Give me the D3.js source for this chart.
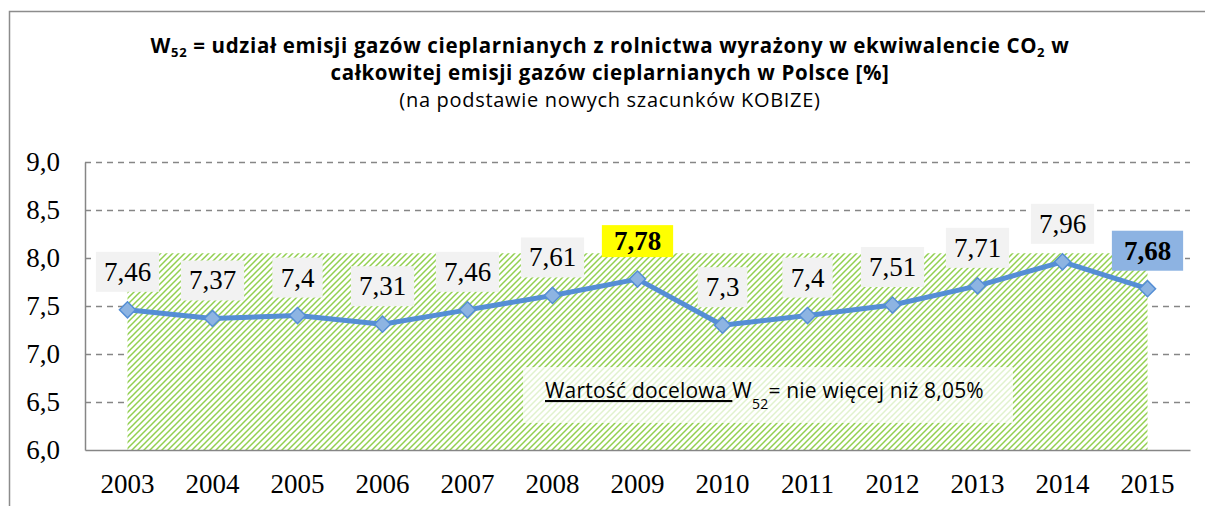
<!DOCTYPE html>
<html>
<head>
<meta charset="utf-8">
<script src="https://cdn.jsdelivr.net/npm/d3@7"></script>
<style>
  body { margin: 0; background: #fff; overflow: hidden; }
  svg { display: block; }
</style>
</head>
<body>
<svg id="chart" width="1205" height="506"></svg>
<script>
// dane
const years = [2003, 2004, 2005, 2006, 2007, 2008, 2009, 2010, 2011, 2012, 2013, 2014, 2015];
const values = [7.46, 7.37, 7.4, 7.31, 7.46, 7.61, 7.78, 7.3, 7.4, 7.51, 7.71, 7.96, 7.68];
const targetValue = 8.05;
const yTicks = [6.0, 6.5, 7.0, 7.5, 8.0, 8.5, 9.0];
const highlightYears = [2009, 2015];
const highlightFills = ['#ffff00', '#8db3e2'];

// konfiguracja
const config = {
    margin: { top: 162, right: 15, bottom: 56, left: 85 },
    width: 1205,
    height: 506,
    lineColor: '#558ed5',
    markerFill: '#8db4e2',
    gridColor: '#868686',
    hatchColor: '#92d050',
    titleFont: '"Open Sans", Lato, sans-serif',
    numFont: '"Liberation Serif", serif'
};

const svg = d3.select('#chart');
const plotRight = config.width - config.margin.right;
const plotBottom = config.height - config.margin.bottom;

// skale
const x = d3.scaleBand()
    .domain(years)
    .range([config.margin.left, plotRight]);
const cx = d => x(d) + x.bandwidth() / 2;

const y = d3.scaleLinear()
    .domain([6, 9])
    .range([plotBottom, config.margin.top]);

const fmt = v => String(v).replace('.', ',');
const fmt1 = v => d3.format('.1f')(v).replace('.', ',');

// ramka wykresu (tylko góra i lewa strona są widoczne)
svg.append('path')
    .attr('d', `M9.5,${config.height} V11.5 H${config.width}`)
    .attr('fill', 'none')
    .attr('stroke', '#8c8c8c')
    .attr('stroke-width', 1.5);

// tytuł - każda linia osobno
const titleLine = (yPos, size, weight, spacing) => svg.append('text')
    .attr('x', 610).attr('y', yPos)
    .attr('text-anchor', 'middle')
    .attr('font-family', config.titleFont)
    .attr('font-size', size)
    .attr('font-weight', weight)
    .attr('letter-spacing', spacing)
    .attr('fill', '#000');

const line1 = titleLine(53, 20.5, 'bold', 0.65);
line1.append('tspan').text('W');
line1.append('tspan').attr('font-size', 13).attr('dy', 4).text('52');
line1.append('tspan').attr('dy', -4).text(' = udział emisji gazów cieplarnianych z rolnictwa wyrażony w ekwiwalencie CO');
line1.append('tspan').attr('font-size', 13).attr('dy', 4).text('2');
line1.append('tspan').attr('dy', -4).text(' w');

titleLine(80, 20.5, 'bold', 0.6)
    .text('całkowitej emisji gazów cieplarnianych w Polsce [%]');

titleLine(107, 20, 'normal', 0.7)
    .text('(na podstawie nowych szacunków KOBIZE)');

// wzór kreskowania
const defs = svg.append('defs');
const pattern = defs.append('pattern')
    .attr('id', 'hatch')
    .attr('patternUnits', 'userSpaceOnUse')
    .attr('width', 6).attr('height', 6);
pattern.append('rect').attr('width', 6).attr('height', 6).attr('fill', '#fff');
pattern.append('path')
    .attr('d', 'M-1,1 l2,-2 M0,6 l6,-6 M5,7 l2,-2')
    .attr('stroke', config.hatchColor)
    .attr('stroke-width', 1.5);

// linie siatki
svg.append('g')
    .selectAll('line')
    .data(yTicks.filter(t => t > 6))
    .join('line')
    .attr('x1', config.margin.left)
    .attr('x2', plotRight)
    .attr('y1', d => Math.round(y(d)) + 0.5)
    .attr('y2', d => Math.round(y(d)) + 0.5)
    .attr('stroke', config.gridColor)
    .attr('stroke-width', 1.3)
    .attr('stroke-dasharray', '6,5');

// obszar wartości docelowej
const area = d3.area()
    .x(d => cx(d))
    .y0(y(6))
    .y1(y(targetValue));
svg.append('path')
    .datum(years)
    .attr('d', area)
    .attr('fill', 'url(#hatch)');

// opis wartości docelowej
svg.append('rect')
    .attr('x', 523).attr('y', 367)
    .attr('width', 490).attr('height', 56)
    .attr('fill', '#fff')
    .attr('fill-opacity', 0.72);

const note = svg.append('text')
    .attr('x', 545).attr('y', 398)
    .attr('font-family', config.titleFont)
    .attr('font-size', 21)
    .attr('letter-spacing', 0.2)
    .attr('fill', '#000');
note.append('tspan').attr('text-decoration', 'underline').text('Wartość docelowa ');
note.append('tspan').text('W');
note.append('tspan').attr('font-size', 14).attr('dy', 11).text('52');
note.append('tspan').attr('dy', -11).text('= nie więcej niż 8,05%');

// osie
const yAxis = svg.append('g')
    .attr('transform', `translate(${config.margin.left},0)`)
    .call(d3.axisLeft(y).tickValues(yTicks).tickFormat(fmt1).tickSize(0).tickPadding(25));
const xAxis = svg.append('g')
    .attr('transform', `translate(0,${plotBottom})`)
    .call(d3.axisBottom(x).tickSize(0).tickPadding(24));

[yAxis, xAxis].forEach(g => {
    g.select('.domain').attr('stroke', config.gridColor).attr('stroke-width', 1.5);
    g.selectAll('text')
        .attr('font-family', config.numFont)
        .attr('font-size', 27)
        .attr('fill', '#000');
});

// linia danych
const data = years.map((yr, i) => ({ year: yr, value: values[i] }));
const line = d3.line()
    .x(d => cx(d.year))
    .y(d => y(d.value));
svg.append('path')
    .datum(data)
    .attr('d', line)
    .attr('fill', 'none')
    .attr('stroke', config.lineColor)
    .attr('stroke-width', 5)
    .attr('stroke-linejoin', 'round');

// znaczniki
svg.append('g')
    .selectAll('path')
    .data(data)
    .join('path')
    .attr('d', d3.symbol(d3.symbolSquare, 130))
    .attr('transform', d => `translate(${cx(d.year)},${y(d.value)}) rotate(45)`)
    .attr('fill', config.markerFill)
    .attr('stroke', config.lineColor)
    .attr('stroke-width', 1.5);

// etykiety danych
const labels = svg.append('g')
    .selectAll('g')
    .data(data)
    .join('g')
    .attr('transform', d => `translate(${cx(d.year)},${y(d.value) - 38})`);

labels.each(function(d) {
    const g = d3.select(this);
    const hi = highlightYears.indexOf(d.year);
    const txt = g.append('text')
        .attr('text-anchor', 'middle')
        .attr('dy', '0.33em')
        .attr('font-family', config.numFont)
        .attr('font-size', 27)
        .attr('font-weight', hi >= 0 ? 'bold' : 'normal')
        .attr('fill', '#000')
        .text(fmt(d.value));
    const bb = txt.node().getBBox();
    const padX = hi >= 0 ? 12 : 8;
    const h = hi === 0 ? 32 : 40;
    g.insert('rect', 'text')
        .attr('x', -bb.width / 2 - padX)
        .attr('y', -h / 2)
        .attr('width', bb.width + 2 * padX)
        .attr('height', h)
        .attr('fill', hi >= 0 ? highlightFills[hi] : '#f2f2f2');
});
</script>
</body>
</html>
